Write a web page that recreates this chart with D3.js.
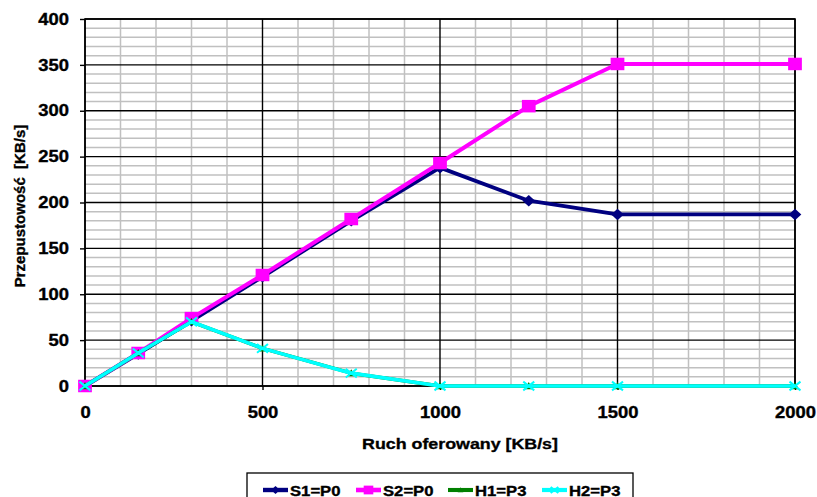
<!DOCTYPE html>
<html>
<head>
<meta charset="utf-8">
<script src="https://cdn.jsdelivr.net/npm/d3@7"></script>
<style>
  html, body { margin: 0; padding: 0; background: #fff; }
  svg { display: block; font-family: "Liberation Sans", Arial, sans-serif; font-weight: bold; }
  svg text { stroke: #000; stroke-width: 0.35px; }
</style>
</head>
<body>
<svg id="chart" width="817" height="497"></svg>
<script>
// Offered traffic (x) and throughput of each stream
const offered = [0, 150, 300, 500, 750, 1000, 1250, 1500, 2000];
const s1 = [0, 35, 71, 119, 180, 238, 202, 187, 187];
const s2 = [0, 36, 74, 121, 182, 243, 305, 351, 351];
const h1 = [0, 36, 70, 41, 14, 0, 0, 0, 0];
const h2 = [0, 36, 70, 41, 14, 0, 0, 0, 0];

const seriesNames = ["S1=P0", "S2=P0", "H1=P3", "H2=P3"];
const seriesColors = ["#000080", "#FF00FF", "#008000", "#00FFFF"];
const seriesMarkers = ["diamond", "square", "triangle", "cross"];
const seriesValues = [s1, s2, h1, h2];

const xTicks = [0, 500, 1000, 1500, 2000];
const yTicks = [0, 50, 100, 150, 200, 250, 300, 350, 400];

const xTitle = "Ruch oferowany [KB/s]";
const yTitle = "Przepustowość\u00A0 [KB/s]";

const svg = d3.select("#chart");
const x = d3.scaleLinear().domain([0, 2000]).range([85, 795]);
const y = d3.scaleLinear().domain([0, 400]).range([386, 19]);
const SX = 1.15; // horizontal glyph widening

// Minor grid
const grid = svg.append("g");
grid.selectAll("line.vmin").data(d3.range(0, 2001, 100).filter(v => v % 500 !== 0))
  .join("line")
  .attr("x1", d => x(d)).attr("x2", d => x(d))
  .attr("y1", y(0)).attr("y2", y(400))
  .attr("stroke", "#c0c0c0").attr("stroke-width", 1.5);
grid.selectAll("line.hmin").data(d3.range(0, 401, 10).filter(v => v % 50 !== 0))
  .join("line")
  .attr("x1", x(0)).attr("x2", x(2000))
  .attr("y1", d => y(d)).attr("y2", d => y(d))
  .attr("stroke", "#c0c0c0").attr("stroke-width", 1.5);
// Major grid
grid.selectAll("line.vmaj").data(xTicks)
  .join("line")
  .attr("x1", d => x(d)).attr("x2", d => x(d))
  .attr("y1", y(0)).attr("y2", y(400))
  .attr("stroke", "#000").attr("stroke-width", 1.4);
grid.selectAll("line.hmaj").data(yTicks)
  .join("line")
  .attr("x1", x(0)).attr("x2", x(2000))
  .attr("y1", d => y(d)).attr("y2", d => y(d))
  .attr("stroke", "#000").attr("stroke-width", 1.4);
// Plot border
svg.append("rect")
  .attr("x", x(0)).attr("y", y(400))
  .attr("width", x(2000) - x(0)).attr("height", y(0) - y(400))
  .attr("fill", "none").attr("stroke", "#000").attr("stroke-width", 1.6);

// Axes
const yAxis = svg.append("g").attr("transform", `translate(${x(0)},0)`)
  .call(d3.axisLeft(y).tickValues(yTicks).tickFormat(d3.format("d")).tickSize(5).tickPadding(9));
const xAxis = svg.append("g").attr("transform", `translate(0,${y(0)})`)
  .call(d3.axisBottom(x).tickValues(xTicks).tickFormat(d3.format("d")).tickSize(4).tickPadding(17));
[yAxis, xAxis].forEach(a => {
  a.select(".domain").remove();
  a.selectAll(".tick line").attr("stroke", "#000").attr("stroke-width", 1.4);
  a.selectAll(".tick text")
    .attr("font-family", "Liberation Sans, Arial, sans-serif")
    .attr("font-weight", "bold").attr("font-size", 16).attr("fill", "#000")
    .attr("transform", `scale(${SX},1)`);
});

// Axis titles
svg.append("text")
  .attr("transform", `translate(460,449) scale(${SX},1)`)
  .attr("text-anchor", "middle").attr("font-size", 15.5).attr("fill", "#000")
  .text(xTitle);
svg.append("text")
  .attr("transform", `translate(25,206) rotate(-90)`)
  .attr("text-anchor", "middle").attr("font-size", 15).attr("fill", "#000")
  .text(yTitle);

// Marker shapes
function markerPath(type, s) {
  const h = s / 2;
  switch (type) {
    case "diamond": return `M0,${-h}L${h * 1.1},0L0,${h}L${-h * 1.1},0Z`;
    case "square": return `M${-h * 1.1},${-h}H${h * 1.1}V${h}H${-h * 1.1}Z`;
    case "triangle": return `M0,${-h}L${h},${h * 0.8}L${-h},${h * 0.8}Z`;
    case "cross": return `M${-h},${-h * 0.8}L${h},${h * 0.8}M${-h},${h * 0.8}L${h},${-h * 0.8}`;
  }
}
const markerSize = [11.5, 12.5, 8, 11];
const lineWidth = [3.8, 4, 3.5, 3.6];

const line = d3.line().x(d => x(d[0])).y(d => y(d[1]));
const plot = svg.append("g");
seriesValues.forEach((vals, i) => {
  const pts = offered.map((o, k) => [o, vals[k]]);
  const g = plot.append("g");
  g.append("path").datum(pts)
    .attr("d", line).attr("fill", "none")
    .attr("stroke", seriesColors[i]).attr("stroke-width", lineWidth[i])
    .attr("stroke-linejoin", "round");
  g.selectAll("path.m").data(pts).join("path")
    .attr("class", "m")
    .attr("transform", d => `translate(${x(d[0])},${y(d[1])})`)
    .attr("d", markerPath(seriesMarkers[i], markerSize[i]))
    .attr("fill", seriesMarkers[i] === "cross" ? "none" : seriesColors[i])
    .attr("stroke", seriesColors[i])
    .attr("stroke-width", seriesMarkers[i] === "cross" ? 2 : 0);
});

// Legend
const legend = svg.append("g");
legend.append("rect")
  .attr("x", 247).attr("y", 473).attr("width", 386).attr("height", 40)
  .attr("fill", "#fff").attr("stroke", "#000").attr("stroke-width", 1.3);
const legX = [263, 356, 448, 542];
seriesNames.forEach((name, i) => {
  const g = legend.append("g").attr("transform", `translate(${legX[i]},490)`);
  g.append("line").attr("x1", 0).attr("x2", 25).attr("y1", 0).attr("y2", 0)
    .attr("stroke", seriesColors[i]).attr("stroke-width", lineWidth[i] + 0.6);
  g.append("path").attr("transform", "translate(12.5,0)")
    .attr("d", markerPath(seriesMarkers[i], markerSize[i] * 0.7))
    .attr("fill", seriesMarkers[i] === "cross" ? "none" : seriesColors[i])
    .attr("stroke", seriesColors[i])
    .attr("stroke-width", seriesMarkers[i] === "cross" ? 2 : 0);
  g.append("text")
    .attr("transform", `translate(27,5.5) scale(${SX},1)`)
    .attr("font-size", 14.5).attr("fill", "#000")
    .text(name);
});
</script>
</body>
</html>
